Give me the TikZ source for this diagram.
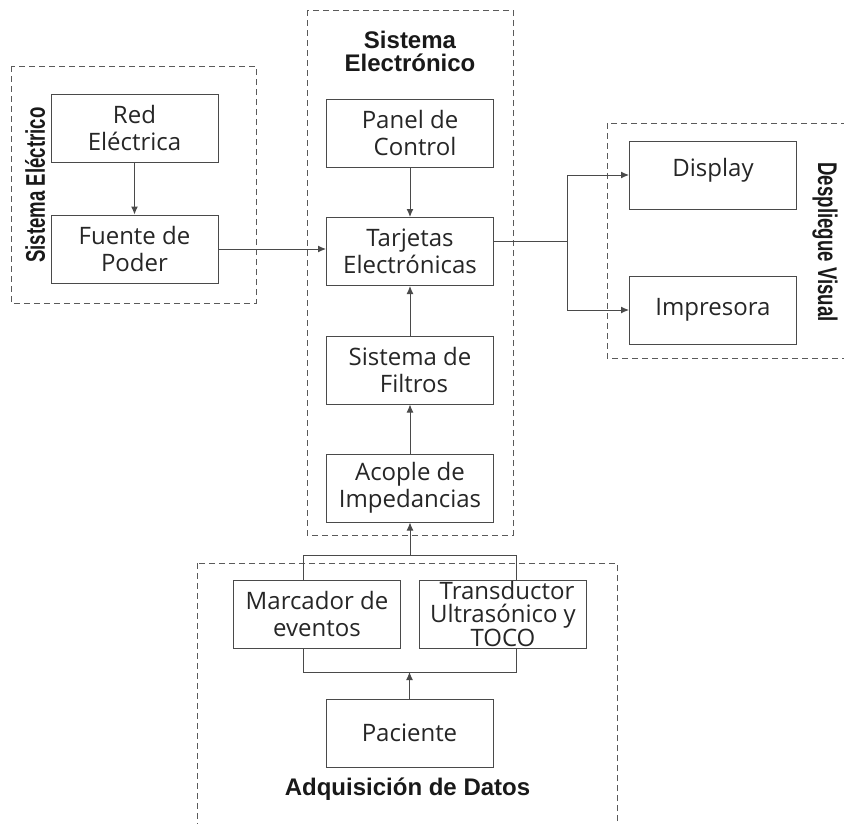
\documentclass[tikz,border=0pt]{standalone}
\usepackage{fontspec}
\usetikzlibrary{arrows.meta}
\newfontfamily\boxfont{Open Sans}
\newfontfamily\headfont{Liberation Sans}

\definecolor{linegray}{HTML}{4A4A4A}
\definecolor{dashgray}{HTML}{5A5A5A}
\definecolor{inkdark}{HTML}{262626}

\tikzset{
  blockbox/.style={draw=linegray, line width=1pt, minimum width=167pt,
    minimum height=68pt, inner sep=0pt, align=center, text=inkdark,
    font=\boxfont\fontsize{24}{27}\selectfont},
  groupframe/.style={draw=dashgray, line width=1pt, dash pattern=on 6pt off 4pt},
  wire/.style={draw=linegray, line width=1pt},
  flow/.style={wire, -{Latex[length=8pt,width=7pt]}},
  grouptitle/.style={inner sep=0pt, align=center, text=black!90,
    font=\headfont\bfseries\fontsize{24}{24}\selectfont},
  sidetitle/.style={grouptitle, font=\headfont\bfseries\fontsize{27}{27}\selectfont},
}

\begin{document}
\begin{tikzpicture}[x=1pt, y=-1pt]
  \useasboundingbox (0,0) rectangle (844,823);
  \fill[white] (0,0) rectangle (844,823);

  % group frames
  \draw[groupframe] (11,66) rectangle (256,303);
  \draw[groupframe] (307,10) rectangle (513,535);
  \draw[groupframe] (607,123) rectangle (852,358);
  \draw[groupframe] (197,563) rectangle (617,832);

  % group titles
  \node[sidetitle, rotate=90] (tElec) at (35,185) {\scalebox{0.69}[1]{Sistema Eléctrico}};
  \node[grouptitle] (tElectronico) at (410,51) {Sistema\\[-1pt]Electrónico};
  \node[sidetitle, rotate=-90] (tVisual) at (825,242) {\scalebox{0.69}[1]{Despliegue Visual}};
  \node[grouptitle] (tDatos) at (407.5,789) {Adquisición de Datos};

  % blocks
  \node[blockbox] (red) at (134.5,128) {Red\\Eléctrica};
  \node[blockbox] (fuente) at (134.5,249) {Fuente de\\Poder};
  \node[blockbox] (panel) at (410,133) {Panel de\\\hspace*{10pt}Control};
  \node[blockbox] (tarjetas) at (410,251.5) {Tarjetas\\Electrónicas};
  \node[blockbox] (filtros) at (410,370) {Sistema de\\\hspace*{8pt}Filtros};
  \node[blockbox] (acople) at (410,488) {Acople de\\Impedancias};
  \node[blockbox] (display) at (713,175) {Display\\[-12pt]\mbox{}};
  \node[blockbox] (impresora) at (713,310) {Impresora};
  \node[blockbox] (marcador) at (317,614) {Marcador de\\eventos};
  \node[blockbox, font=\boxfont\fontsize{24}{23}\selectfont] (transductor) at (503,614) {\hspace*{8pt}Transductor\\Ultrasónico y\\TOCO};
  \node[blockbox] (paciente) at (409.5,733) {Paciente};

  % power path
  \draw[flow] (red) -- (fuente);
  \draw[flow] (fuente.east) -- (fuente.east -| tarjetas.west);

  % electronic chain
  \draw[flow] (panel) -- (tarjetas);
  \draw[flow] (filtros) -- (tarjetas);
  \draw[flow] (acople) -- (filtros);

  % outputs
  \coordinate (split) at (567,241);
  \draw[wire] (tarjetas.east |- split) -- (split);
  \draw[flow] (split) |- (display.west);
  \draw[flow] (split) |- (impresora.west);

  % acquisition buses
  \coordinate (busTL) at (303,555);
  \coordinate (busTR) at (516,555);
  \coordinate (busBL) at (303,672);
  \coordinate (busBR) at (516,672);
  \draw[wire] (busTL |- marcador.north) -- (busTL) -- (busTR) -- (busTR |- transductor.north);
  \draw[flow] (acople.south |- busTL) -- (acople.south);
  \draw[wire] (busBL |- marcador.south) -- (busBL) -- (busBR) -- (busBR |- transductor.south);
  \draw[flow] (paciente.north) -- (paciente.north |- busBL);
\end{tikzpicture}
\end{document}
